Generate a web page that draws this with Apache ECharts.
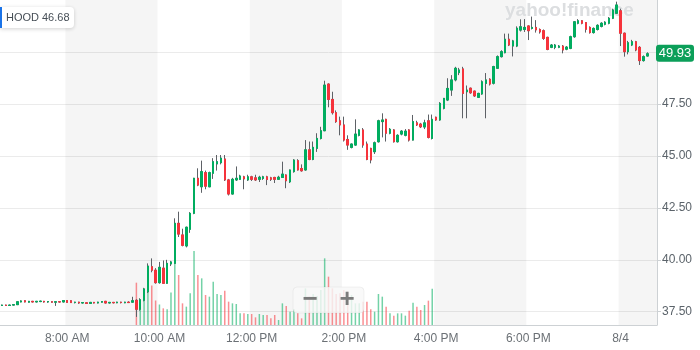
<!DOCTYPE html>
<html><head><meta charset="utf-8">
<script src="https://cdn.jsdelivr.net/npm/echarts@6/dist/echarts.min.js"></script>
<style>html,body{margin:0;padding:0;background:#fff}#c{width:700px;height:350px}</style>
</head><body><div id="c"></div>
<script>
// ---- data ----
const symbol = 'HOOD';
const headerQuote = '46.68';
const watermark = 'yahoo!finance';
const priceTicks = [37.5, 40, 42.5, 45, 47.5, 50];
const tickCategories = ['8/3 08:00','8/3 10:00','8/3 12:00','8/3 14:00','8/3 16:00','8/3 18:00','8/4 04:00'];
const tickLabels = ['8:00 AM','10:00 AM','12:00 PM','2:00 PM','4:00 PM','6:00 PM','8/4'];

// 5-minute slots: 8/3 06:35 .. 19:55, then 8/4 04:00 .. 04:45
function hhmm(m){const h=Math.floor(m/60),mm=m%60;return (h<10?'0':'')+h+':'+(mm<10?'0':'')+mm;}
const categories = [];
for (let m = 6*60+35; m < 20*60; m += 5) categories.push('8/3 ' + hhmm(m));
for (let m = 4*60; m < 4*60+50; m += 5) categories.push('8/4 ' + hhmm(m));

const candleStart = '8/3 06:35';
const opens = [37.80,37.82,37.80,37.82,37.84,37.97,38.03,37.96,38.00,37.97,
37.99,38.00,37.97,37.98,37.96,37.98,37.97,38.04,38.03,37.94,
37.96,37.92,37.93,37.90,37.95,37.92,37.96,38.00,37.92,37.95,
37.93,37.96,37.93,37.96,37.96,38.05,37.62,38.05,38.46,39.67,
39.50,38.90,39.60,38.87,39.80,39.83,41.76,41.20,40.67,41.47,
42.24,43.93,43.52,44.20,43.52,44.17,44.62,44.68,44.86,43.85,
43.17,43.85,43.88,44.00,43.85,44.00,43.95,43.88,43.92,44.00,
43.95,43.97,43.88,43.97,44.09,43.76,44.25,44.78,44.40,44.33,
45.30,44.84,45.37,45.85,46.22,48.47,47.73,47.09,46.70,46.50,
45.80,45.42,45.53,46.00,46.26,45.58,45.37,45.21,45.69,46.66,
46.77,46.10,46.26,45.69,46.06,46.00,46.26,45.77,46.60,46.54,
46.40,46.70,45.85,46.87,46.74,47.30,47.70,48.18,48.67,49.02,
49.20,48.10,48.27,48.13,47.83,47.99,48.50,48.70,48.51,49.23,
49.79,49.98,50.63,50.30,50.30,51.07,51.10,51.27,51.15,51.20,
51.10,51.04,50.72,50.24,50.24,50.24,50.30,50.15,50.19,50.75,
51.40,51.52,51.43,51.20,50.95,51.10,51.25,51.35,51.40,51.64,
51.88,52.00,50.92,50.03,50.35,50.51,50.24,49.60,49.82];
const highs = [37.84,37.84,37.84,37.86,38.00,38.05,38.05,38.02,38.02,38.02,
38.03,38.02,38.00,38.00,38.00,38.01,38.06,38.06,38.05,37.98,
37.98,37.96,37.95,37.97,37.97,37.98,38.01,38.02,37.97,37.97,
37.98,37.98,37.98,38.00,38.22,38.10,38.15,38.65,39.83,40.07,
39.60,39.90,39.97,40.00,39.95,42.00,42.32,41.50,41.60,42.30,
43.95,44.41,44.78,44.30,44.25,44.90,45.05,45.05,45.05,43.90,
43.95,44.50,44.10,44.05,44.10,44.05,44.10,44.05,44.05,44.05,
44.00,44.00,44.05,44.73,44.12,44.35,44.85,44.85,44.60,45.77,
45.70,45.70,46.10,46.41,48.63,48.50,48.10,47.20,46.90,46.90,
46.00,45.60,46.77,46.30,46.35,45.70,45.40,45.70,46.75,47.06,
46.80,46.35,46.30,46.05,46.25,46.30,46.30,46.98,46.70,46.60,
46.75,47.00,47.00,46.90,47.60,47.80,48.75,48.90,49.30,49.25,
49.30,48.40,48.30,48.15,48.05,48.65,49.00,48.75,49.35,49.85,
50.10,50.90,50.90,50.60,51.25,51.59,51.60,51.30,51.72,51.55,
51.15,51.10,50.75,50.40,50.40,50.35,50.35,50.30,50.80,51.50,
51.60,51.55,51.45,51.25,51.20,51.35,51.45,51.50,51.70,52.10,
52.44,52.10,50.95,50.55,50.60,50.55,50.30,49.85,50.00];
const lows = [37.78,37.79,37.78,37.80,37.83,37.95,37.95,37.94,37.95,37.95,
37.96,37.94,37.93,37.94,37.78,37.95,37.95,37.93,37.92,37.90,
37.88,37.90,37.88,37.89,37.90,37.90,37.94,37.90,37.90,37.90,
37.91,37.90,37.91,37.92,37.94,37.25,37.55,38.00,38.40,39.40,
38.85,38.85,38.85,38.85,39.70,39.80,41.10,40.65,40.60,41.30,
42.20,43.55,43.23,43.40,43.50,43.90,44.30,44.60,43.80,43.10,
43.15,43.80,43.85,43.40,43.80,43.80,43.80,43.75,43.85,43.60,
43.80,43.70,43.85,43.95,43.45,43.70,44.20,44.30,44.25,44.30,
44.80,44.80,45.20,45.80,46.20,47.35,47.00,46.60,46.00,45.70,
45.30,45.37,45.50,45.95,45.40,44.80,44.65,45.10,45.65,45.90,
45.70,46.05,45.65,45.65,46.00,45.95,45.70,45.75,46.45,46.35,
46.30,45.85,45.80,46.70,46.70,47.25,47.65,47.90,48.60,48.90,
46.82,46.82,48.00,47.85,47.80,47.95,46.82,48.40,48.45,49.20,
49.75,49.95,50.30,49.80,50.25,51.00,50.98,50.59,51.10,50.95,
50.90,50.60,50.10,50.20,50.15,50.20,49.95,50.10,50.15,50.70,
51.35,51.35,50.95,50.90,50.90,51.05,51.20,51.30,51.35,51.60,
51.85,50.30,49.79,49.90,50.30,50.05,49.39,49.55,49.80];
const closes = [37.82,37.80,37.82,37.84,37.98,38.02,37.97,38.00,37.97,38.00,
38.01,37.97,37.99,37.96,37.98,37.97,38.04,37.95,37.94,37.96,
37.92,37.94,37.90,37.95,37.92,37.96,37.99,37.92,37.95,37.93,
37.96,37.94,37.96,37.94,38.03,37.62,38.08,38.60,39.70,39.50,
38.90,39.64,38.87,39.83,39.90,41.76,41.24,40.70,41.57,42.24,
43.93,43.60,44.25,43.55,44.20,44.73,44.73,44.90,43.85,43.17,
43.88,43.93,44.04,43.90,44.00,43.88,43.85,43.98,44.00,43.87,
43.88,43.88,43.98,44.13,43.81,44.33,44.81,44.33,44.29,45.30,
44.84,45.42,45.85,46.22,48.42,47.73,47.09,46.66,46.50,45.77,
45.53,45.58,46.06,46.26,45.53,44.84,44.81,45.64,46.70,46.74,
46.10,46.29,45.69,46.00,46.20,46.20,45.77,46.66,46.50,46.41,
46.60,45.90,46.77,46.74,47.54,47.78,48.26,48.67,49.23,49.15,
48.02,48.18,48.05,47.90,48.02,48.58,48.67,48.47,49.31,49.79,
50.03,50.63,50.35,50.55,51.16,51.23,51.20,51.04,51.20,51.08,
50.98,50.67,50.14,50.35,50.35,50.30,50.11,50.25,50.75,51.47,
51.52,51.40,51.11,50.95,51.15,51.30,51.40,51.45,51.64,52.04,
52.28,50.92,50.03,50.46,50.51,50.11,49.60,49.79,49.93];

// regular-session volume (thousands of shares), 9:30 .. 15:55
const volumeStart = '8/3 09:30';
const volumes = [2540,1400,1800,2100,2370,1470,1230,1000,940,1950,
4400,3000,1300,1100,1900,4440,3000,2800,1800,1700,
2600,1860,1800,2060,1400,1300,1260,700,700,660,
660,460,660,600,600,400,600,300,1300,1140,
800,940,700,400,2200,1700,1860,1740,2100,4000,
2900,2200,1860,1900,2100,2000,1800,1300,1300,1400,
1400,940,800,1860,1700,1100,700,560,700,700,
560,860,1340,1100,900,1200,1460,2180];

// ---- build ----
const UP = '#00ad5f', DOWN = '#f6333b', WICK = '#5d6166';
const c0 = categories.indexOf(candleStart);
const v0 = categories.indexOf(volumeStart);
const wickData = categories.map(() => '-');
const bodyData = categories.map(() => '-');
opens.forEach((o, k) => {
  const c = closes[k];
  wickData[c0 + k] = [o, c, lows[k], highs[k]];
  bodyData[c0 + k] = [o, c, Math.min(o, c), Math.max(o, c)];
});
const volData = categories.map(() => null);
volumes.forEach((v, k) => {
  const i = v0 + k, j = i - c0;
  volData[i] = {value: v, itemStyle: {color: closes[j] >= opens[j] ? 'rgba(0,173,95,0.55)' : 'rgba(246,51,59,0.55)'}};
});
const lastClose = closes[closes.length - 1];
const labelFor = {};
tickCategories.forEach((c, i) => labelFor[c] = tickLabels[i]);
const isTick = (i, v) => labelFor[v] !== undefined;
const isBand = (i, v) => i === 0 || labelFor[v] !== undefined;

const FONT = 'Liberation Sans';
const chart = echarts.init(document.getElementById('c'), null, {renderer: 'canvas'});
chart.setOption({
  animation: false,
  grid: [
    {left: -2, width: 659, top: 0, height: 325},
    {left: -2, width: 659, top: 225, height: 100}
  ],
  xAxis: [
    {type: 'category', gridIndex: 0, data: categories, boundaryGap: true,
      axisLine: {lineStyle: {color: '#cdd1d4'}},
      axisTick: {interval: isTick, length: 5, lineStyle: {color: '#cdd1d4'}},
      axisLabel: {interval: isTick, formatter: v => labelFor[v] || '', color: '#6b7075', fontSize: 12, fontFamily: FONT, margin: 8},
      splitLine: {show: false},
      splitArea: {show: true, interval: isBand, areaStyle: {color: ['rgba(0,0,0,0)', 'rgba(0,0,0,0.04)']}}
    },
    {type: 'category', gridIndex: 1, data: categories, boundaryGap: true, show: false}
  ],
  yAxis: [
    {type: 'value', gridIndex: 0, position: 'right', min: 36.86, max: 52.52,
      axisLine: {show: true, lineStyle: {color: '#cdd1d4'}},
      axisTick: {show: true, customValues: priceTicks, length: 4, lineStyle: {color: '#cdd1d4'}},
      axisLabel: {customValues: priceTicks, formatter: v => Number(v).toFixed(2), color: '#5b636a', fontSize: 12, fontFamily: FONT, margin: 5},
      splitLine: {show: true, lineStyle: {color: '#ebebeb'}}
    },
    {type: 'value', gridIndex: 1, min: 0, max: 6000, show: false, splitLine: {show: false}}
  ],
  series: [
    {type: 'bar', xAxisIndex: 1, yAxisIndex: 1, data: volData, barWidth: 1.5, z: 2, silent: true},
    {type: 'candlestick', xAxisIndex: 0, yAxisIndex: 0, data: wickData, barWidth: 2, z: 3, silent: true,
      itemStyle: {color: WICK, color0: WICK, borderColor: WICK, borderColor0: WICK, borderWidth: 1}},
    {type: 'candlestick', xAxisIndex: 0, yAxisIndex: 0, data: bodyData, barWidth: 2, z: 4, silent: true,
      itemStyle: {color: UP, color0: DOWN, borderColor: UP, borderColor0: DOWN, borderWidth: 1}}
  ]
});

// overlays (price tag placed at the last close through the price axis)
const tagY = chart.convertToPixel({yAxisIndex: 0}, lastClose);
const axisX = chart.convertToPixel({xAxisIndex: 0}, categories[categories.length - 1]) + 1.93;
chart.setOption({
  graphic: [
    {type: 'text', id: 'wm', x: 505, y: 11, z: 1, silent: true,
      style: {text: watermark, fontFamily: FONT, fontWeight: 'bold', fontSize: 19, fill: '#dcdee0', verticalAlign: 'middle'}},
    {type: 'rect', id: 'hdrBox', z: 100, shape: {x: 0, y: 7, width: 74, height: 21, r: [0, 4, 4, 0]},
      style: {fill: '#fff', shadowBlur: 4, shadowColor: 'rgba(0,0,0,0.18)', shadowOffsetY: 1}},
    {type: 'rect', id: 'hdrBar', z: 101, shape: {x: 0, y: 7, width: 2, height: 21}, style: {fill: '#1a73e8'}},
    {type: 'text', id: 'hdrSym', z: 101, x: 6, y: 18, style: {text: symbol, fontFamily: FONT, fontSize: 11, fill: '#464e56', verticalAlign: 'middle'}},
    {type: 'text', id: 'hdrVal', z: 101, x: 42, y: 18, style: {text: headerQuote, fontFamily: FONT, fontSize: 11, fill: '#464e56', verticalAlign: 'middle'}},
    {type: 'rect', id: 'zoomBox', z: 100, shape: {x: 293, y: 287, width: 71, height: 26, r: 4},
      style: {fill: 'rgba(248,248,248,0.82)', stroke: 'rgba(0,0,0,0.05)'}},
    {type: 'text', id: 'zoomOut', z: 101, x: 310, y: 300, style: {text: '−', fontFamily: FONT, fontWeight: 'bold', fontSize: 26, fill: '#7b7b7b', align: 'center', verticalAlign: 'middle'}},
    {type: 'text', id: 'zoomIn', z: 101, x: 347, y: 300, style: {text: '+', fontFamily: FONT, fontWeight: 'bold', fontSize: 26, fill: '#7b7b7b', align: 'center', verticalAlign: 'middle'}},
    {type: 'rect', id: 'tagBox', z: 100, shape: {x: axisX - 1, y: tagY - 9, width: 38, height: 17, r: 3}, style: {fill: '#0b9f59'}},
    {type: 'text', id: 'tagTxt', z: 101, x: axisX + 18, y: tagY - 0.5, style: {text: lastClose.toFixed(2), fontFamily: FONT, fontSize: 13, fill: '#fff', align: 'center', verticalAlign: 'middle'}}
  ]
});
</script>
</body></html>
